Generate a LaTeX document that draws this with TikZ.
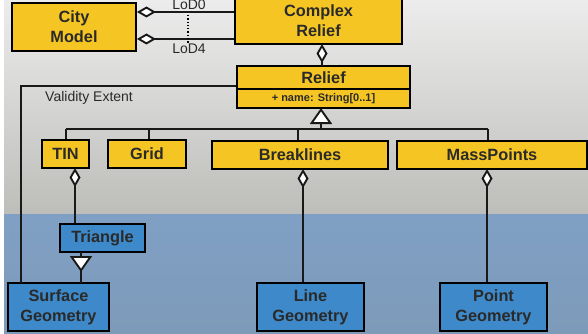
\documentclass[tikz,border=0pt]{standalone}
\usepackage{fontspec}
\setmainfont{Liberation Sans}
\usetikzlibrary{arrows.meta}
\definecolor{ybox}{HTML}{F5C623}
\definecolor{bbox}{HTML}{3D89C9}
\definecolor{txt}{HTML}{2A2A2A}
\definecolor{bgtop}{HTML}{ECECEC}
\definecolor{bgbot}{HTML}{BDBDBA}
\definecolor{bandtop}{HTML}{7FA0C4}
\definecolor{bandbot}{HTML}{7E9AB9}
\tikzset{
  x=1pt, y=-1pt,
  umlbox/.style={draw=black, line width=1.9pt, inner sep=0pt, align=center,
    text=txt, font=\bfseries\fontsize{16.3}{20}\selectfont},
  yel/.style={umlbox, fill=ybox},
  blu/.style={umlbox, fill=bbox},
  conn/.style={line width=1.9pt, draw=black!90},
  aggr/.style={conn, {Diamond[fill=white, length=19pt, width=11pt, line width=1.9pt]}-},
  gen/.style={conn, {Triangle[fill=white, length=16pt, width=22pt, line width=1.9pt]}-},
  lbl/.style={text=txt, font=\fontsize{14}{16}\selectfont, inner sep=0pt},
}
\begin{document}
\begin{tikzpicture}
\useasboundingbox (0,0) rectangle (588,334);
% background
\fill[white] (0,0) rectangle (588,334);
\shade[top color=bgtop, bottom color=bgbot] (4,0) rectangle (588,214);
\shade[top color=bandtop, bottom color=bandbot] (4,214) rectangle (588,334);

% boxes
\node[yel, minimum width=124pt, minimum height=48pt] (city) at (74,27) {City\\Model};
\node[yel, minimum width=167pt, minimum height=47pt] (complex) at (318.5,20.5) {Complex\\Relief};
\node[yel, minimum width=173pt, minimum height=23pt] (relief) at (323.5,77.5) {Relief};
\node[yel, minimum width=173pt, minimum height=19pt, font=\bfseries\fontsize{11}{12}\selectfont] (reliefattr) at (323.5,98.5) {+ name: String[0..1]};
\node[yel, minimum width=47pt, minimum height=28pt] (tin) at (65.5,154) {TIN};
\node[yel, minimum width=78pt, minimum height=28pt] (grid) at (147,154) {Grid};
\node[yel, minimum width=176pt, minimum height=28pt] (brk) at (300,155) {Breaklines};
\node[yel, minimum width=190pt, minimum height=28pt] (mass) at (492,155) {MassPoints};
\node[blu, minimum width=85pt, minimum height=28pt] (tri) at (102.5,238) {Triangle};
\node[blu, minimum width=101pt, minimum height=48pt] (surf) at (58.5,307) {Surface\\Geometry};
\node[blu, minimum width=107pt, minimum height=48pt] (line) at (310.5,307) {Line\\Geometry};
\node[blu, minimum width=107pt, minimum height=48pt] (point) at (493.5,307) {Point\\Geometry};

% City Model -- Complex Relief (LoD0 / LoD4)
\coordinate (c0a) at (city.east |- 0,12);
\coordinate (c0b) at (complex.west |- 0,12);
\coordinate (c4a) at (city.east |- 0,39);
\coordinate (c4b) at (complex.west |- 0,39);
\draw[aggr] (c0a) -- (c0b);
\draw[aggr] (c4a) -- (c4b);
\node[lbl] (lod0) at (189,4.5) {LoD0};
\node[lbl] (lod4) at (189,49) {LoD4};
\coordinate (dt) at (188,15);
\coordinate (db) at (188,43);
\draw[dotted, line width=1.3pt] (dt) -- (db);

% Complex Relief -- Relief
\coordinate (cr1) at (322,44);
\coordinate (cr2) at (322,66);
\draw[aggr] (cr1) -- (cr2);

% Validity Extent
\coordinate (ve1) at (relief.west |- 0,86);
\coordinate (ve2) at (21,86);
\coordinate (ve3) at (21,283);
\draw[conn] (ve1) -- (ve2) -- (ve3);
\node[lbl, anchor=west] (vel) at (45,98) {Validity Extent};

% generalization Relief
\coordinate (g0) at (321,108);
\coordinate (g1) at (321,129);
\coordinate (bl) at (66,129);
\coordinate (br) at (488,129);
\draw[gen] (g0) -- (g1);
\draw[conn] (bl) -- (br);
\draw[conn] (bl) -- (bl |- tin.north);
\draw[conn] (149,129) -- (grid.north -| 149,0);
\draw[conn] (298,129) -- (brk.north -| 298,0);
\draw[conn] (br) -- (br |- mass.north);

% aggregations to geometry
\coordinate (t1) at (75,168);
\draw[aggr] (t1) -- (t1 |- tri.north);
\coordinate (b1) at (303,169);
\draw[aggr] (b1) -- (b1 |- line.north);
\coordinate (m1) at (487,169);
\draw[aggr] (m1) -- (m1 |- point.north);

% Triangle -> Surface Geometry
\coordinate (ts0) at (81,252);
\coordinate (ts1) at (81,272);
\coordinate (ts2) at (81,283);
\draw[conn] (ts0) -- (ts2);
\draw[gen] (ts1) -- (ts0);
\end{tikzpicture}
\end{document}
